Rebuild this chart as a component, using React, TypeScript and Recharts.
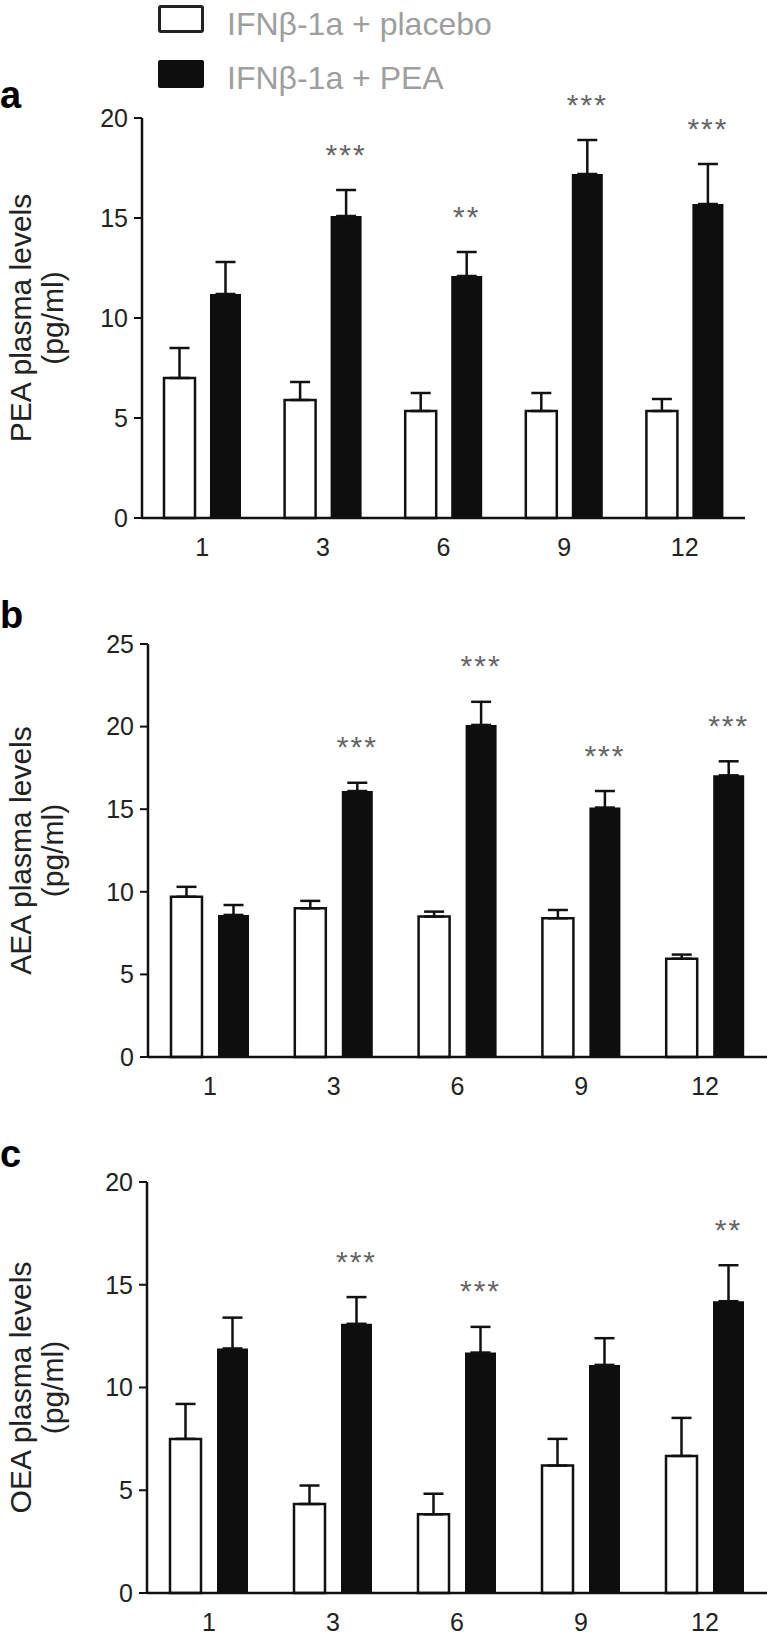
import React from 'react';
import { BarChart, Bar, XAxis, YAxis, ErrorBar, LabelList } from 'recharts';

// months of treatment
const months = ['1', '3', '6', '9', '12'];
const seriesNames = ['IFNβ-1a + placebo', 'IFNβ-1a + PEA'];

// a: PEA (pg/ml)
const peaPlacebo = [7.0, 5.9, 5.35, 5.35, 5.35];
const peaPlaceboErr = [1.5, 0.9, 0.9, 0.9, 0.6];
const peaTreated = [11.2, 15.1, 12.1, 17.2, 15.7];
const peaTreatedErr = [1.6, 1.3, 1.2, 1.7, 2.0];
const peaSig = ['', '***', '**', '***', '***'];

// b: AEA (pg/ml)
const aeaPlacebo = [9.7, 9.0, 8.5, 8.4, 5.95];
const aeaPlaceboErr = [0.6, 0.45, 0.3, 0.5, 0.25];
const aeaTreated = [8.6, 16.1, 20.1, 15.1, 17.05];
const aeaTreatedErr = [0.6, 0.5, 1.4, 1.0, 0.85];
const aeaSig = ['', '***', '***', '***', '***'];

// c: OEA (pg/ml)
const oeaPlacebo = [7.5, 4.33, 3.83, 6.2, 6.67];
const oeaPlaceboErr = [1.7, 0.9, 1.0, 1.3, 1.85];
const oeaTreated = [11.9, 13.1, 11.7, 11.1, 14.2];
const oeaTreatedErr = [1.5, 1.3, 1.25, 1.3, 1.75];
const oeaSig = ['', '***', '***', '', '**'];

const ticksA = [0, 5, 10, 15, 20];
const ticksB = [0, 5, 10, 15, 20, 25];
const ticksC = [0, 5, 10, 15, 20];

const FONT = '"Liberation Sans", Arial, sans-serif';

function buildRows(placebo: number[], placeboErr: number[], treated: number[], treatedErr: number[], sig: string[]) {
    return months.map((m, i) => ({
        month: m,
        placebo: placebo[i],
        placeboErr: placeboErr[i],
        treated: treated[i],
        treatedErr: treatedErr[i],
        sig: sig[i],
    }));
}

function AxisTitle(props: any) {
    const { viewBox, lines } = props;
    const cy = viewBox.y + viewBox.height / 2;
    return (
        <g>
            <text x={20} y={cy} transform={`rotate(-90, 20, ${cy})`} textAnchor="middle" dominantBaseline="central"
                fontSize={30} fontFamily={FONT} fill="#222">{lines[0]}</text>
            <text x={52} y={cy} transform={`rotate(-90, 52, ${cy})`} textAnchor="middle" dominantBaseline="central"
                fontSize={30} fontFamily={FONT} fill="#222">{lines[1]}</text>
        </g>
    );
}

function Panel(props: any) {
    const { rows, ticks, top, height, margin, xAxisHeight, yWidth, barGap, title } = props;
    const maxY = ticks[ticks.length - 1];

    // significance stars sit a fixed distance above the error bar cap
    const renderSig = (p: any) => {
        const { x, y, width, height: h, index } = p;
        const row = rows[index];
        if (!row.sig) return null;
        const ppu = h / row.treated;
        const errTop = y - row.treatedErr * ppu;
        return (
            <text x={x + width / 2} y={errTop - 36} textAnchor="middle" dominantBaseline="central"
                fontSize={30} fontFamily={FONT} fill="#666" letterSpacing={2}>{row.sig}</text>
        );
    };

    return (
        <div style={{ position: 'absolute', left: 0, top, width: 767, height }}>
            <BarChart width={767} height={height} data={rows} margin={margin} barGap={barGap} barSize={31}>
                <XAxis dataKey="month" height={xAxisHeight} tickLine={false} tickSize={0} tickMargin={20}
                    axisLine={{ stroke: '#111', strokeWidth: 2.5 }}
                    tick={{ fill: '#222', fontSize: 25, fontFamily: FONT }} interval={0} />
                <YAxis domain={[0, maxY]} ticks={ticks} width={yWidth} tickSize={8} tickMargin={6}
                    axisLine={{ stroke: '#111', strokeWidth: 2.5 }} tickLine={{ stroke: '#111', strokeWidth: 2 }}
                    tick={{ fill: '#222', fontSize: 25, fontFamily: FONT }}
                    label={(lp: any) => <AxisTitle viewBox={lp.viewBox} lines={title} />} />
                <Bar dataKey="placebo" name={seriesNames[0]} fill="#fff" stroke="#111" strokeWidth={2.5}
                    isAnimationActive={false}>
                    <ErrorBar dataKey={(d: any) => [0, d.placeboErr]} width={10} stroke="#111" strokeWidth={2.5}
                        direction="y" isAnimationActive={false} />
                </Bar>
                <Bar dataKey="treated" name={seriesNames[1]} fill="#0e0e0e" isAnimationActive={false}>
                    <ErrorBar dataKey={(d: any) => [0, d.treatedErr]} width={10} stroke="#111" strokeWidth={2.5}
                        direction="y" isAnimationActive={false} />
                    <LabelList dataKey="treated" content={renderSig} />
                </Bar>
            </BarChart>
        </div>
    );
}

function PanelLetter({ letter, top }: { letter: string; top: number }) {
    return (
        <div style={{ position: 'absolute', left: 0, top, fontSize: 38, lineHeight: '38px', fontWeight: 700, fontFamily: FONT, color: '#000' }}>
            {letter}
        </div>
    );
}

export default function App() {
    const rowsA = buildRows(peaPlacebo, peaPlaceboErr, peaTreated, peaTreatedErr, peaSig);
    const rowsB = buildRows(aeaPlacebo, aeaPlaceboErr, aeaTreated, aeaTreatedErr, aeaSig);
    const rowsC = buildRows(oeaPlacebo, oeaPlaceboErr, oeaTreated, oeaTreatedErr, oeaSig);

    return (
        <div style={{ position: 'absolute', left: 0, top: 0, width: 767, height: 1638, background: '#fff', overflow: 'hidden' }}>
            {/* legend */}
            <div style={{ position: 'absolute', left: 158, top: 5, width: 40, height: 22, border: '3px solid #222', borderRadius: 3, background: '#fff' }} />
            <div style={{ position: 'absolute', left: 227, top: 8, fontSize: 32, lineHeight: '32px', fontFamily: FONT, color: '#9e9e9e' }}>{seriesNames[0]}</div>
            <div style={{ position: 'absolute', left: 158, top: 60, width: 46, height: 28, background: '#0e0e0e', borderRadius: 2 }} />
            <div style={{ position: 'absolute', left: 227, top: 62, fontSize: 32, lineHeight: '32px', fontFamily: FONT, color: '#9e9e9e' }}>{seriesNames[1]}</div>

            <PanelLetter letter="a" top={76} />
            <PanelLetter letter="b" top={596} />
            <PanelLetter letter="c" top={1135} />

            <Panel rows={rowsA} ticks={ticksA} top={60} height={520} xAxisHeight={50}
                margin={{ top: 58, right: 22, bottom: 12, left: 0 }} yWidth={142} barGap={15}
                title={['PEA plasma levels', '(pg/ml)']} />
            <Panel rows={rowsB} ticks={ticksB} top={590} height={520} xAxisHeight={45}
                margin={{ top: 54, right: 0, bottom: 8, left: 0 }} yWidth={148} barGap={16}
                title={['AEA plasma levels', '(pg/ml)']} />
            <Panel rows={rowsC} ticks={ticksC} top={1125} height={513} xAxisHeight={40}
                margin={{ top: 57, right: 0, bottom: 5, left: 0 }} yWidth={147} barGap={16}
                title={['OEA plasma levels', '(pg/ml)']} />
        </div>
    );
}
